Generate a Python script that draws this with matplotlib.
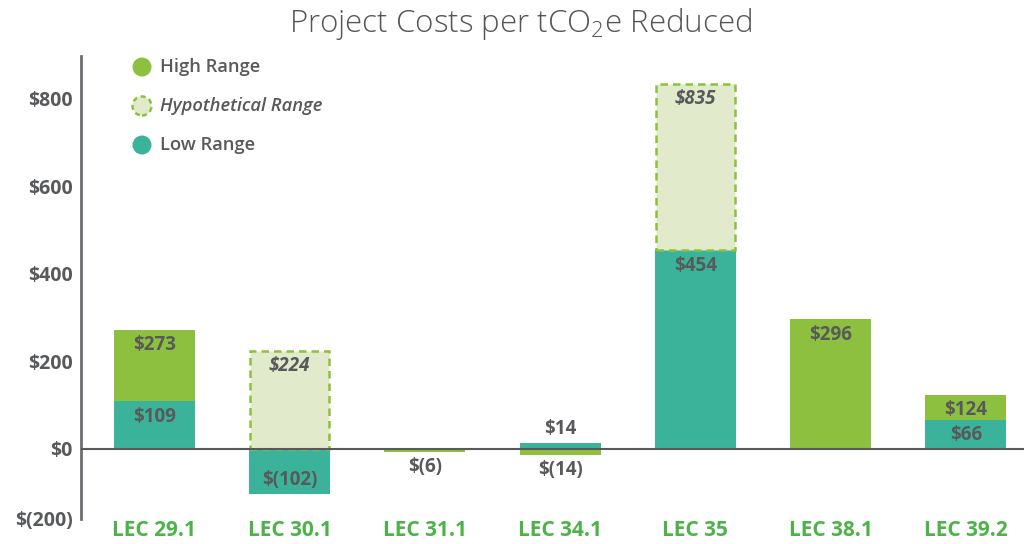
import matplotlib
matplotlib.use("Agg")
import matplotlib.pyplot as plt
import numpy as np

categories = ['LEC 29.1', 'LEC 30.1', 'LEC 31.1', 'LEC 34.1', 'LEC 35', 'LEC 38.1', 'LEC 39.2']
low_range = [109, -102, None, 14, 454, None, 66]
high_range = [273, None, -6, -14, None, 296, 124]
hypothetical_range = [None, 224, None, None, 835, None, None]
ytick_values = [-160, 0, 200, 400, 600, 800]
ytick_labels = ['$(200)', '$0', '$200', '$400', '$600', '$800']

GREEN = '#8DC03F'
TEAL = '#3BB39A'
LIGHT = '#E1EBCB'
TEXT = '#58595B'
CAT = '#4DB349'
FONT = 'Open Sans'

plt.rcParams['font.family'] = [FONT, 'DejaVu Sans']
plt.rcParams['mathtext.default'] = 'regular'

fig = plt.figure(figsize=(10.24, 5.44), dpi=100)
ax = fig.add_axes([0.0791, 0.046, 0.9209, 0.851])
x = np.arange(len(categories))
w = 0.6
VAL_FS = 13.5


def fmt(v):
    return f'${v}' if v >= 0 else f'$({abs(v)})'


def label(xi, bottom, top, v, italic=False):
    h = top - bottom
    style = 'italic' if italic else 'normal'
    if abs(h) < 30:
        off = 10 if v >= 0 else -11
    else:
        off = -11 if v >= 0 else 10
    ax.annotate(fmt(v), (xi, top), xytext=(0, off), textcoords='offset points',
                ha='center', va='center', fontsize=VAL_FS, fontweight='bold',
                color=TEXT, style=style, zorder=5)


for i in range(len(categories)):
    lo = low_range[i]
    hi = high_range[i]
    hy = hypothetical_range[i]
    if lo is not None:
        ax.bar(x[i], lo, width=w, bottom=0, color=TEAL, zorder=2)
        label(x[i], 0, lo, lo)
    if hi is not None:
        if lo is not None and lo > 0 and hi > lo:
            b = lo
        else:
            b = 0
        ax.bar(x[i], hi - b, width=w, bottom=b, color=GREEN, zorder=2)
        label(x[i], b, hi, hi)
    if hy is not None:
        b = lo if (lo is not None and lo > 0) else 0
        ax.bar(x[i], hy - b, width=w * 0.97, bottom=b, facecolor=LIGHT, edgecolor=GREEN,
               linestyle=(0, (3, 2)), linewidth=1.8, zorder=2)
        label(x[i], b, hy, hy, italic=True)

ax.axhline(0, color='#58595B', linewidth=1.5, zorder=4)

ax.set_xlim(-0.543, 6.43)
ax.set_ylim(-160, 898)
ax.set_yticks(ytick_values)
ax.set_yticklabels(ytick_labels)
ax.set_xticks(x)
ax.set_xticklabels(categories)
ax.tick_params(axis='y', length=0, pad=6, labelsize=14, labelcolor=TEXT)
ax.tick_params(axis='x', length=0, pad=1, labelsize=15, labelcolor=CAT)
for t in ax.get_yticklabels():
    t.set_fontweight('bold')
for t in ax.get_xticklabels():
    t.set_fontweight('bold')

for s in ['top', 'right', 'bottom']:
    ax.spines[s].set_visible(False)
ax.spines['left'].set_color('#6D6E71')
ax.spines['left'].set_linewidth(2)

# legend
leg_items = [('High Range', GREEN, GREEN, 'solid', 'normal'),
             ('Hypothetical Range', LIGHT, GREEN, 'dashed', 'italic'),
             ('Low Range', TEAL, TEAL, 'solid', 'normal')]
ys = [67, 106, 145]
for (name, fc, ec, ls, st), yy in zip(leg_items, ys):
    fy = 1 - yy / 544
    fx = 142 / 1024
    circ = matplotlib.patches.Ellipse((fx, fy), 19 / 1024, 19 / 544, transform=fig.transFigure,
                                      facecolor=fc, edgecolor=ec, linewidth=1.8 if ls == 'dashed' else 0,
                                      linestyle=(0, (2, 1.5)) if ls == 'dashed' else 'solid')
    fig.patches.append(circ)
    fig.text(160 / 1024, fy, name, ha='left', va='center', fontsize=13.2, color=TEXT,
             style=st, fontweight='semibold')

fig.text(0.508, 1 - 24 / 544, 'Project Costs per tCO$_2$e Reduced', ha='center', va='center',
         fontsize=22.5, color='#555555', fontweight='light')

fig.savefig('out.png', dpi=100)
